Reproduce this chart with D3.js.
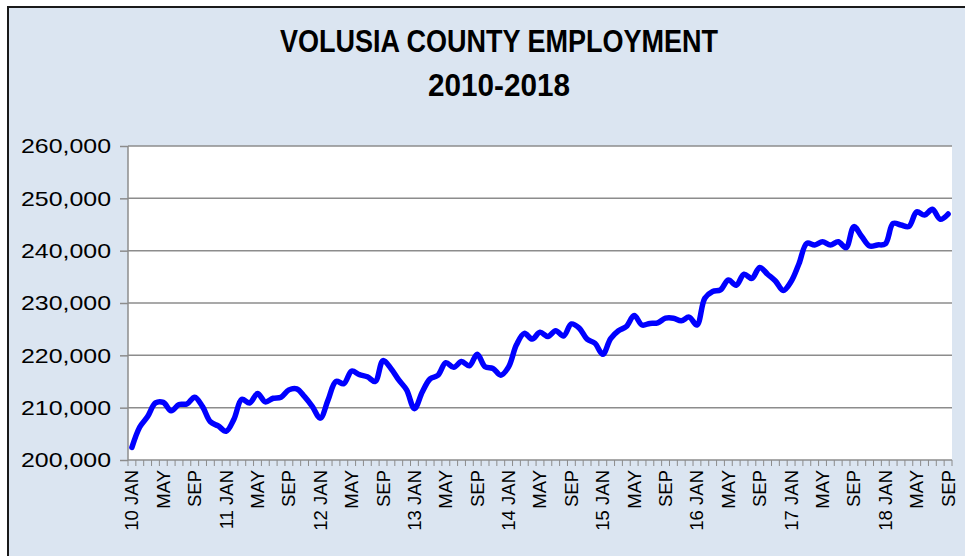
<!DOCTYPE html>
<html>
<head>
<meta charset="utf-8">
<script src="https://cdn.jsdelivr.net/npm/d3@7"></script>
<style>
  body { margin: 0; background: #fff; }
  svg { display: block; }
  .axis text { font-family: "Liberation Sans", Arial, sans-serif; fill: #000; }
</style>
</head>
<body>
<svg width="965" height="556"></svg>
<script>
// monthly employment, Jan 2010 - Sep 2018
var years = ["10", "11", "12", "13", "14", "15", "16", "17", "18"];
var monthNames = ["JAN", "FEB", "MAR", "APR", "MAY", "JUN", "JUL", "AUG", "SEP", "OCT", "NOV", "DEC"];

var employment = [
  202400, 206300, 208300, 210900, 211000, 209400, 210600, 210700, 212000, 210200, 207300, 206500, // 2010
  205500, 207800, 211600, 210900, 212700, 211100, 211800, 212000, 213400, 213600, 212100, 210200, // 2011
  208000, 211500, 215000, 214600, 217000, 216300, 215900, 215000, 219000, 217500, 215300, 213400, // 2012
  209800, 213000, 215500, 216200, 218600, 217700, 218800, 218000, 220200, 217800, 217500, 216200, // 2013
  217800, 222000, 224200, 223100, 224400, 223600, 224700, 223700, 226000, 225200, 223100, 222300, // 2014
  220200, 223200, 224700, 225500, 227600, 225800, 226100, 226200, 227100, 227100, 226600, 227300, // 2015
  225800, 230900, 232200, 232500, 234400, 233400, 235500, 234700, 236800, 235500, 234200, 232400, // 2016
  234100, 237500, 241400, 241100, 241700, 241100, 241700, 240600, 244600, 242700, 240900, 241100, // 2017
  241300, 245200, 244900, 244600, 247400, 246800, 247900, 246000, 247000                          // 2018
];

var yTicks = [200000, 210000, 220000, 230000, 240000, 250000, 260000];

var tickLabels = [
  "10 JAN", "MAY", "SEP", "11 JAN", "MAY", "SEP", "12 JAN", "MAY", "SEP",
  "13 JAN", "MAY", "SEP", "14 JAN", "MAY", "SEP", "15 JAN", "MAY", "SEP",
  "16 JAN", "MAY", "SEP", "17 JAN", "MAY", "SEP", "18 JAN", "MAY", "SEP"
];

// category keys, one per month
var categories = [];
years.forEach(function(yr) {
  monthNames.forEach(function(m) { categories.push(yr + " " + m); });
});
categories = categories.slice(0, employment.length);

var data = categories.map(function(c, i) { return {cat: c, value: employment[i]}; });

var svg = d3.select("svg"),
    margin = {top: 146, right: 13, bottom: 96, left: 128},
    width = +svg.attr("width") - margin.left - margin.right,
    height = +svg.attr("height") - margin.top - margin.bottom;

// chart area background + frame
svg.append("rect")
    .attr("x", 8).attr("y", 7)
    .attr("width", 965).attr("height", 560)
    .attr("fill", "#dbe5f1")
    .attr("stroke", "#1a1a1a")
    .attr("stroke-width", 2);

svg.append("text")
    .attr("x", 499).attr("y", 52)
    .attr("text-anchor", "middle")
    .attr("textLength", 438)
    .attr("lengthAdjust", "spacingAndGlyphs")
    .style("font-family", "'Liberation Sans Narrow', 'Liberation Sans', Arial, sans-serif")
    .style("font-weight", "bold")
    .style("font-size", "31px")
    .text("VOLUSIA COUNTY EMPLOYMENT");

svg.append("text")
    .attr("x", 499).attr("y", 96)
    .attr("text-anchor", "middle")
    .attr("textLength", 142)
    .attr("lengthAdjust", "spacingAndGlyphs")
    .style("font-family", "'Liberation Sans Narrow', 'Liberation Sans', Arial, sans-serif")
    .style("font-weight", "bold")
    .style("font-size", "31px")
    .text("2010-2018");

var g = svg.append("g")
    .attr("transform", "translate(" + margin.left + "," + margin.top + ")");

var x = d3.scaleBand().domain(categories).range([0, width]).padding(0),
    y = d3.scaleLinear().domain([200000, 260000]).range([height, 0]);

g.append("rect")
    .attr("width", width).attr("height", height)
    .attr("fill", "#fff");

// gridlines
g.selectAll(".grid")
  .data(yTicks.slice(1))
  .enter().append("line")
    .attr("class", "grid")
    .attr("x1", 0).attr("x2", width)
    .attr("y1", function(d) { return y(d); })
    .attr("y2", function(d) { return y(d); })
    .attr("stroke", "#8c8c8c")
    .attr("stroke-width", 1.5);

// y axis
var yAxis = g.append("g")
    .attr("class", "axis axis--y")
    .call(d3.axisLeft(y).tickValues(yTicks).tickSize(8).tickPadding(9).tickFormat(d3.format(",")));
yAxis.selectAll("line, path").attr("stroke", "#8c8c8c").attr("stroke-width", 1.5);
yAxis.select(".domain").attr("d", "M0," + height + "V0");
yAxis.selectAll("text")
    .style("font-size", "21px")
    .attr("textLength", 90)
    .attr("lengthAdjust", "spacingAndGlyphs");

// x axis: tick mark at each category boundary, label every 4th month
var xAxis = g.append("g")
    .attr("class", "axis axis--x")
    .attr("transform", "translate(0," + height + ")");

xAxis.append("line")
    .attr("x1", 0).attr("x2", width)
    .attr("stroke", "#8c8c8c").attr("stroke-width", 1.5);

xAxis.selectAll(".minor")
  .data(categories.concat(["end"]))
  .enter().append("line")
    .attr("class", "minor")
    .attr("x1", function(d, i) { return i * x.step(); })
    .attr("x2", function(d, i) { return i * x.step(); })
    .attr("y1", 0).attr("y2", 6)
    .attr("stroke", "#8c8c8c").attr("stroke-width", 1);

xAxis.selectAll(".lbl")
  .data(tickLabels)
  .enter().append("text")
    .attr("class", "lbl")
    .attr("transform", function(d, i) {
      var c = categories[i * 4];
      return "translate(" + (x(c) + x.bandwidth() / 2) + ",10) rotate(-90)";
    })
    .attr("text-anchor", "end")
    .attr("dy", "0.35em")
    .style("font-size", "18.5px")
    .text(function(d) { return d; });

var line = d3.line()
    .curve(d3.curveCatmullRom.alpha(0.5))
    .x(function(d) { return x(d.cat) + x.bandwidth() / 2; })
    .y(function(d) { return y(d.value); });

g.append("path")
    .datum(data)
    .attr("fill", "none")
    .attr("stroke", "#0000ff")
    .attr("stroke-width", 5.5)
    .attr("stroke-linejoin", "round")
    .attr("stroke-linecap", "round")
    .attr("d", line);
</script>
</body>
</html>
